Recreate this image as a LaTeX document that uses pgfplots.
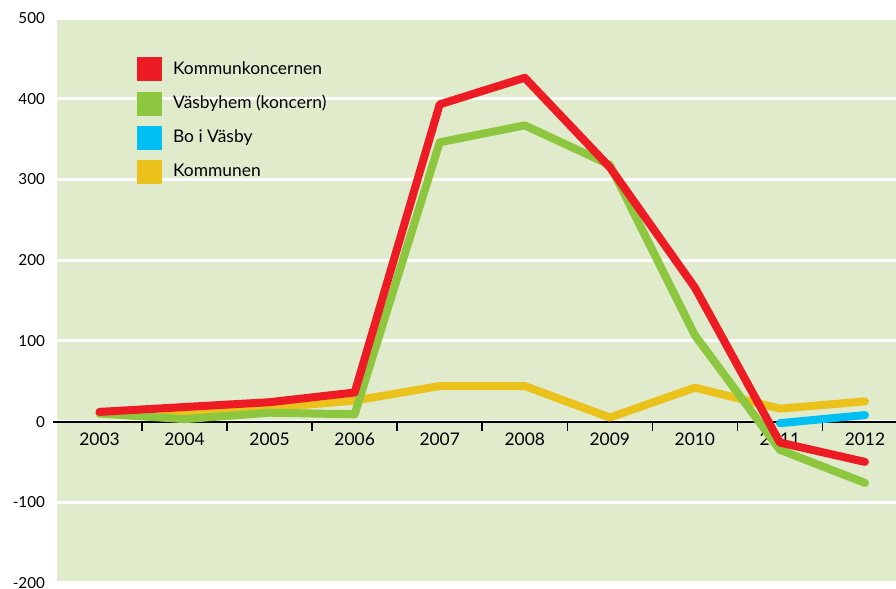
\documentclass[border=0pt]{standalone}
\usepackage{fontspec}
\setmainfont{Lato}
\usepackage{pgfplots}
\pgfplotsset{compat=1.18}
\definecolor{bgc}{HTML}{E0EBCB}
\definecolor{cred}{HTML}{ED1C24}
\definecolor{cgreen}{HTML}{8DC63F}
\definecolor{cblue}{HTML}{00BFF3}
\definecolor{cyellow}{HTML}{EBC21C}
\begin{document}
\begin{tikzpicture}
\begin{axis}[
  scale only axis,
  width=419.5pt, height=282.5pt,
  xmin=-0.5, xmax=9.365,
  ymin=-200, ymax=500,
  axis x line*=middle,
  axis y line*=left,
  y axis line style={draw=none},
  x axis line style={black, line width=1pt, shorten <=-2pt},
  axis background/.style={fill=bgc},
  ytick={-200,-100,...,500},
  ytick style={draw=none},
  ymajorgrids,
  grid style={white, line width=1.5pt},
  xtick={0.5,1.5,...,8.5},
  xticklabels={},
  tick align=outside,
  major tick length=4.5pt,
  xtick style={black, line width=0.75pt},
  extra x ticks={0,...,9},
  extra x tick labels={2003,2004,2005,2006,2007,2008,2009,2010,2011,2012},
  extra x tick style={major tick length=0pt, xticklabel style={yshift=-2pt}},
  xticklabel style={font=\fontsize{8.7}{10}\selectfont},
  yticklabel style={font=\fontsize{7.6}{9}\selectfont, xshift=2pt},
  /pgf/number format/assume math mode=true,
  legend cell align=left,
  reverse legend,
  legend style={draw=none, fill=none, at={(axis description cs:0.095,0.931)},
    anchor=north west, inner sep=0pt, row sep=5pt,
    font=\fontsize{8.7}{10}\selectfont},
  legend image code/.code={\fill[#1, draw=none] (0pt,-6pt) rectangle (12.5pt,6pt);
    \path[draw=none, fill=none] (0pt,0pt) rectangle (16pt,0pt);},
  every axis plot/.append style={line width=4pt, line cap=round, line join=round},
]
\addplot[cyellow] coordinates {
  (0,10) (1,13) (2,17) (3,26) (4,44) (5,44) (6,5) (7,42) (8,16) (9,25)
};
\addlegendentry{Kommunen}
\addplot[cblue] coordinates {
  (8,-2) (9,8)
};
\addlegendentry{Bo i Väsby}
\addplot[cgreen] coordinates {
  (0,10) (1,3) (2,11) (3,9) (4,346) (5,367) (6,318) (7,107) (8,-35) (9,-76)
};
\addlegendentry{Väsbyhem (koncern)}
\addplot[cred] coordinates {
  (0,12) (1,18) (2,24) (3,36) (4,393) (5,426) (6,315) (7,166) (8,-26) (9,-50)
};
\addlegendentry{Kommunkoncernen}
\coordinate (sw) at (rel axis cs:0,0);
\end{axis}
\pgfresetboundingbox
\useasboundingbox (sw) ++(-28.5pt,-3pt) rectangle ++(448pt,294.5pt);
\end{tikzpicture}
\end{document}
